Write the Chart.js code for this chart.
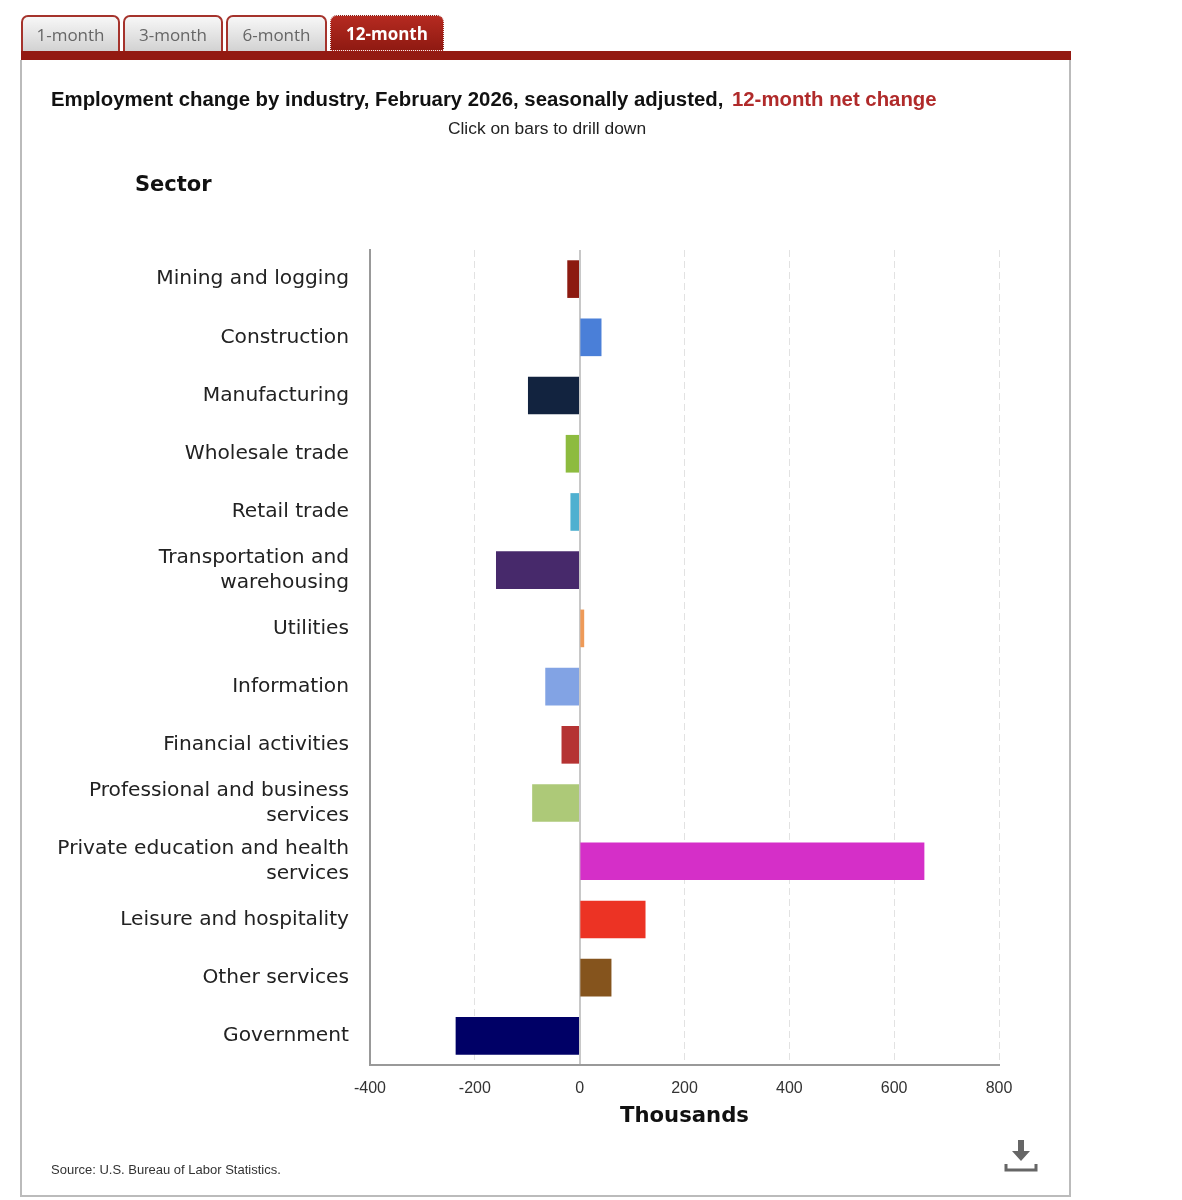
<!DOCTYPE html>
<html>
<head>
<meta charset="utf-8">
<title>Employment change by industry</title>
<script src="https://cdn.jsdelivr.net/npm/chart.js@4"></script>
<style>
  body { margin: 0; background: #fff; width: 1182px; height: 1200px; position: relative; overflow: hidden; }
  #chart { position: absolute; left: 0; top: 0; }
  .tab {
    position: absolute; top: 15px; height: 36px; box-sizing: border-box;
    border: 2px solid #a5332c; border-bottom: none; border-radius: 7px 7px 0 0;
    background: linear-gradient(#f7f7f7, #d2d2d2);
    font: 17px "Open Sans", sans-serif; color: #666; text-align: center; line-height: 36px;
  }
  .tab.active {
    background: linear-gradient(#b52a20, #8f1a12); color: #fff; font-weight: bold;
    border: 1px dotted #eee; border-bottom: 1px dotted #eee;
  }
  #tabbar { position: absolute; left: 21px; top: 51px; width: 1050px; height: 9px; background: #931a12; }
  #panel { position: absolute; left: 20px; top: 60px; width: 1051px; height: 1137px; box-sizing: border-box;
    border: 2px solid #bbb; border-top: none; }
  #title { position: absolute; left: 51px; top: 88px; font: bold 20.35px "Liberation Sans", sans-serif; color: #111; white-space: nowrap; }
  #title span { color: #b02a2a; margin-left: 3px; }
  #sub { position: absolute; left: 21px; width: 1052px; top: 118px; text-align: center; font: 17.4px "Liberation Sans", sans-serif; color: #222; }
  #sector { position: absolute; left: 135px; top: 172px; font: bold 21px "DejaVu Sans", sans-serif; color: #111; }
  #source { position: absolute; left: 51px; top: 1162px; font: 13px "Liberation Sans", sans-serif; color: #333; }
  #dl { position: absolute; left: 1004px; top: 1139px; }
</style>
</head>
<body>
<div id="panel"></div>
<canvas id="chart" width="1182" height="1200"></canvas>
<div class="tab" style="left:21px;width:99px">1-month</div>
<div class="tab" style="left:123px;width:100px">3-month</div>
<div class="tab" style="left:226px;width:101px">6-month</div>
<div class="tab active" style="left:330px;width:114px">12-month</div>
<div id="tabbar"></div>
<div id="title">Employment change by industry, February 2026, seasonally adjusted, <span>12-month net change</span></div>
<div id="sub">Click on bars to drill down</div>
<div id="sector">Sector</div>
<div id="source">Source: U.S. Bureau of Labor Statistics.</div>
<svg id="dl" width="34" height="34" viewBox="0 0 34 34">
  <path d="M14 1h6v11h6l-9 10-9-10h6z" fill="#666"/>
  <path d="M2 25v6h30v-6" fill="none" stroke="#666" stroke-width="3"/>
</svg>
<script>
const sectors = [
  "Mining and logging",
  "Construction",
  "Manufacturing",
  "Wholesale trade",
  "Retail trade",
  ["Transportation and", "warehousing"],
  "Utilities",
  "Information",
  "Financial activities",
  ["Professional and business", "services"],
  ["Private education and health", "services"],
  "Leisure and hospitality",
  "Other services",
  "Government"
];
const netChange = [-23, 41, -98, -26, -17, -159, 8, -65, -34, -90, 657, 125, 60, -236];
const barColors = [
  "#8c1a10", "#4a7fd8", "#12233f", "#8dbb3f", "#4fb0d0", "#47296b", "#ee9a58",
  "#82a3e4", "#b53333", "#adc978", "#d52fc8", "#ec3324", "#85541d", "#000066"
];

new Chart(document.getElementById("chart"), {
  type: "bar",
  data: {
    labels: sectors,
    datasets: [{
      data: netChange,
      backgroundColor: barColors,
      barThickness: 37
    }]
  },
  options: {
    indexAxis: "y",
    responsive: false,
    animation: false,
    layout: { padding: { top: 250, right: 183, bottom: 0, left: 0 } },
    plugins: { legend: { display: false }, tooltip: { enabled: false } },
    scales: {
      x: {
        min: -400,
        max: 800,
        afterFit: (scale) => { scale.height = 135; },
        ticks: {
          stepSize: 200,
          maxRotation: 0,
          padding: 14,
          color: "#333",
          font: { family: "Liberation Sans", size: 16 }
        },
        grid: {
          drawTicks: false,
          color: (c) => c.tick.value === 0 ? "#c8c8c8" : "#e2e2e2",
          lineWidth: (c) => c.tick.value === 0 ? 2 : 1
        },
        border: {
          color: "#999",
          width: 2,
          dash: (c) => c.tick && c.tick.value === 0 ? [] : [7, 4]
        },
        title: {
          display: true,
          text: "Thousands",
          color: "#111",
          padding: { top: 2, bottom: 71 },
          font: { family: "DejaVu Sans", size: 21.2, weight: "bold" }
        }
      },
      y: {
        afterFit: (scale) => { scale.width = 370; },
        ticks: {
          padding: 21,
          color: "#222",
          font: { family: "DejaVu Sans", size: 20.2, lineHeight: 1.22 }
        },
        grid: { display: false, drawTicks: false },
        border: { color: "#999", width: 2 }
      }
    }
  }
});
</script>
</body>
</html>
